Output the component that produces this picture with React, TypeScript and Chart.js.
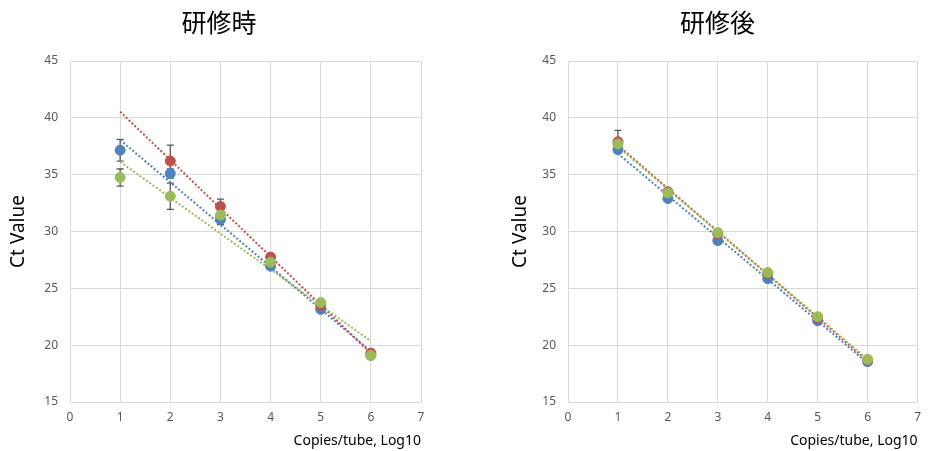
import React, { useEffect, useRef } from "react";
import { Chart, registerables } from "chart.js";

Chart.register(...registerables);

// ---- data ----
const copiesLog10 = [1, 2, 3, 4, 5, 6];

// 研修時 (before / during training)
const duringBlue = [37.15, 35.1, 31.05, 26.95, 23.15, 19.1];
const duringRed: (number | null)[] = [null, 36.2, 32.2, 27.75, 23.5, 19.3];
const duringGreen = [34.75, 33.1, 31.45, 27.3, 23.75, 19.1];
const duringBlueErr = [0.95, 0.4, 0.45, 0.2, 0.2, 0.2];
const duringRedErr = [0, 1.4, 0.65, 0.2, 0.2, 0.2];
const duringGreenErr = [0.75, 1.15, 0.3, 0.2, 0.2, 0.2];

// 研修後 (after training)
const afterBlue = [37.2, 32.9, 29.2, 25.85, 22.15, 18.55];
const afterRed = [37.9, 33.5, 29.8, 26.3, 22.4, 18.7];
const afterGreen = [37.7, 33.4, 29.9, 26.4, 22.5, 18.75];
const afterBlueErr = [0.2, 0.2, 0.2, 0.2, 0.2, 0.2];
const afterRedErr = [1.0, 0.2, 0.2, 0.2, 0.2, 0.2];
const afterGreenErr = [0.2, 0.2, 0.2, 0.2, 0.2, 0.2];

const titles = ["研修時", "研修後"];
const xAxisTitle = "Copies/tube, Log10";
const yAxisTitle = "Ct Value";

const BLUE = "#4F81BD";
const RED = "#C0504D";
const GREEN = "#9BBB59";

type Series = { values: (number | null)[]; errors: number[]; color: string };

function points(values: (number | null)[]) {
  const out: { x: number; y: number }[] = [];
  values.forEach((v, i) => {
    if (v !== null && v !== undefined) out.push({ x: copiesLog10[i], y: v });
  });
  return out;
}

function trend(values: (number | null)[]) {
  const pts = points(values);
  const n = pts.length;
  const mx = pts.reduce((a, p) => a + p.x, 0) / n;
  const my = pts.reduce((a, p) => a + p.y, 0) / n;
  let sxy = 0;
  let sxx = 0;
  pts.forEach((p) => {
    sxy += (p.x - mx) * (p.y - my);
    sxx += (p.x - mx) * (p.x - mx);
  });
  const slope = sxy / sxx;
  const x0 = copiesLog10[0];
  const x1 = copiesLog10[copiesLog10.length - 1];
  return [
    { x: x0, y: my + slope * (x0 - mx) },
    { x: x1, y: my + slope * (x1 - mx) },
  ];
}

const errorBarPlugin = {
  id: "errorBars",
  beforeDatasetsDraw(chart: any) {
    const { ctx, scales } = chart;
    ctx.save();
    ctx.strokeStyle = "#595959";
    ctx.lineWidth = 1.3;
    chart.data.datasets.forEach((ds: any) => {
      if (!ds.errorBars) return;
      ds.data.forEach((p: any) => {
        const idx = copiesLog10.indexOf(p.x);
        const e = ds.errorBars[idx];
        if (!e) return;
        const px = scales.x.getPixelForValue(p.x);
        const yt = scales.y.getPixelForValue(p.y + e);
        const yb = scales.y.getPixelForValue(p.y - e);
        ctx.beginPath();
        ctx.moveTo(px, yt);
        ctx.lineTo(px, yb);
        ctx.moveTo(px - 3.5, yt);
        ctx.lineTo(px + 3.5, yt);
        ctx.moveTo(px - 3.5, yb);
        ctx.lineTo(px + 3.5, yb);
        ctx.stroke();
      });
    });
    ctx.restore();
  },
};

function CtChart(props: {
  title: string;
  series: Series[];
  left: number;
  width: number;
  padLeft: number;
  padRight: number;
  yWidth: number;
  yTitlePad: number;
}) {
  const ref = useRef<HTMLCanvasElement | null>(null);
  useEffect(() => {
    if (!ref.current) return;
    const orders = [3, 2, 1];
    const datasets: any[] = [];
    props.series.forEach((s, i) => {
      datasets.push({
        type: "scatter",
        data: points(s.values),
        backgroundColor: s.color,
        borderColor: s.color,
        borderWidth: 1,
        pointRadius: 5,
        showLine: false,
        errorBars: s.errors,
        order: orders[i],
      });
    });
    props.series.forEach((s, i) => {
      datasets.push({
        type: "line",
        data: trend(s.values),
        borderColor: s.color,
        borderWidth: 2,
        borderDash: [2, 2],
        pointRadius: 0,
        showLine: true,
        fill: false,
        order: 10 + orders[i],
      });
    });
    const chart = new Chart(ref.current, {
      type: "scatter",
      data: { datasets },
      plugins: [errorBarPlugin],
      options: {
        responsive: false,
        animation: false,
        layout: { padding: { left: props.padLeft, right: props.padRight, top: 0, bottom: 0 } },
        plugins: {
          legend: { display: false },
          tooltip: { enabled: false },
          title: {
            display: true,
            text: props.title,
            color: "#000",
            font: { family: "'Noto Sans CJK JP'", size: 25, weight: "normal", lineHeight: 1.2 },
            padding: { top: 7, bottom: 24 },
          },
        },
        scales: {
          x: {
            type: "linear",
            min: 0,
            max: 7,
            ticks: {
              stepSize: 1,
              color: "#595959",
              font: { family: "'Noto Sans'", size: 12 },
              padding: 8,
            },
            grid: { color: "#D9D9D9", drawTicks: false },
            border: { color: "#D9D9D9" },
            title: {
              display: true,
              text: xAxisTitle,
              align: "end",
              color: "#000",
              font: { family: "'Noto Sans'", size: 14, lineHeight: 1.2 },
              padding: { top: 0, bottom: 2 },
            },
            afterFit: (s: any) => {
              s.height = 49;
            },
          },
          y: {
            type: "linear",
            min: 15,
            max: 45,
            ticks: {
              stepSize: 5,
              color: "#595959",
              font: { family: "'Noto Sans'", size: 12 },
              padding: 12,
            },
            grid: { color: "#D9D9D9", drawTicks: false },
            border: { color: "#D9D9D9" },
            title: {
              display: true,
              text: yAxisTitle,
              color: "#000",
              font: { family: "'Noto Sans'", size: 19, lineHeight: 1 },
              padding: { top: props.yTitlePad, bottom: 0 },
            },
            afterFit: (s: any) => {
              s.width = props.yWidth;
            },
          },
        },
      } as any,
    });
    return () => chart.destroy();
  }, []);
  return (
    <canvas
      ref={ref}
      width={props.width}
      height={451}
      style={{ position: "absolute", left: props.left, top: 0, width: props.width, height: 451 }}
    />
  );
}

export default function App() {
  return (
    <div style={{ position: "fixed", left: 0, top: 0, width: 929, height: 451, background: "#fff" }}>
      <CtChart
        title={titles[0]}
        series={[
          { values: duringBlue, errors: duringBlueErr, color: BLUE },
          { values: duringRed, errors: duringRedErr, color: RED },
          { values: duringGreen, errors: duringGreenErr, color: GREEN },
        ]}
        left={0}
        width={464}
        padLeft={17}
        padRight={43}
        yWidth={53}
        yTitlePad={-8}
      />
      <CtChart
        title={titles[1]}
        series={[
          { values: afterBlue, errors: afterBlueErr, color: BLUE },
          { values: afterRed, errors: afterRedErr, color: RED },
          { values: afterGreen, errors: afterGreenErr, color: GREEN },
        ]}
        left={464}
        width={465}
        padLeft={53}
        padRight={11}
        yWidth={51}
        yTitlePad={-5.5}
      />
    </div>
  );
}
